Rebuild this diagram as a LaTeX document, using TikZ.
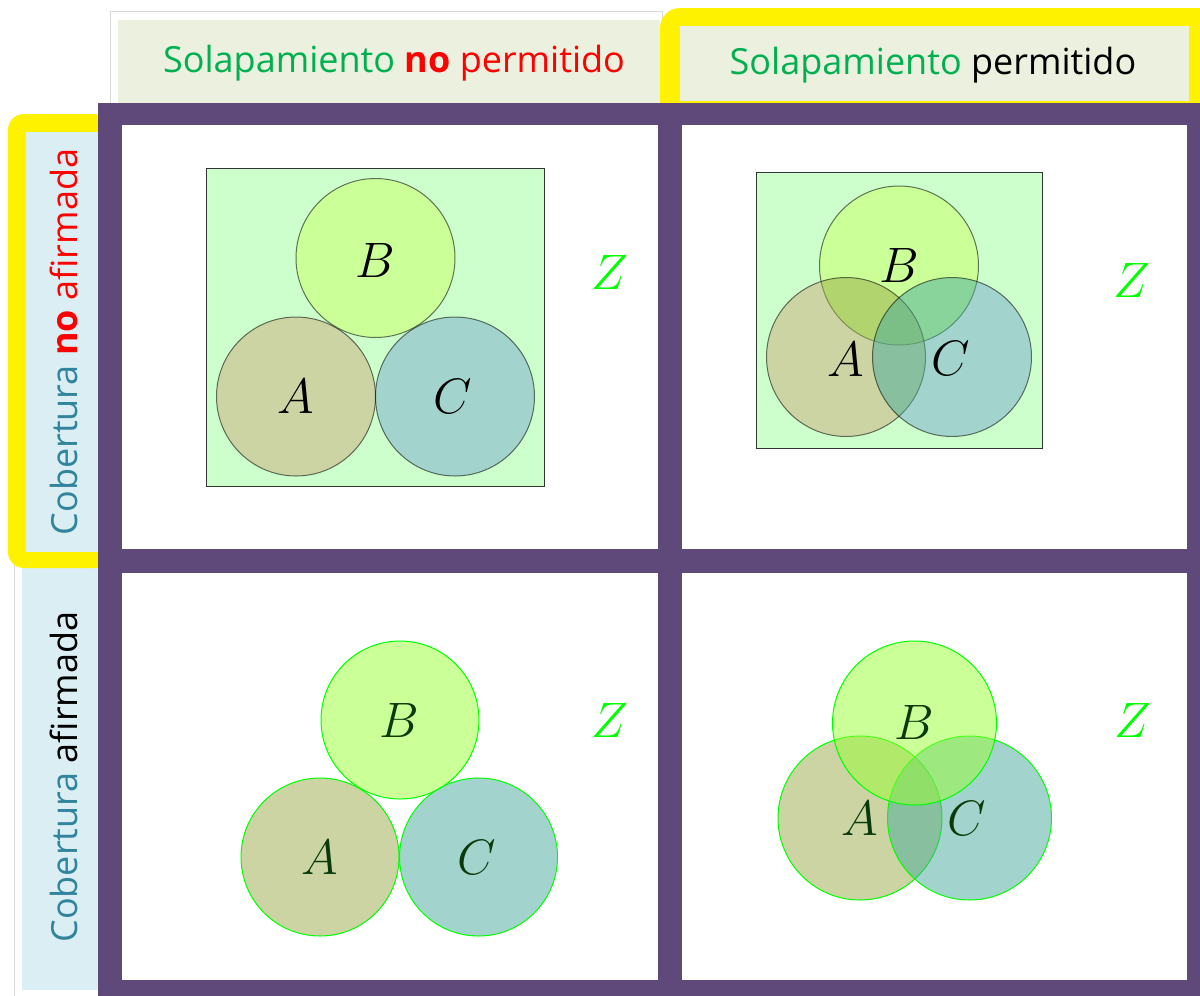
\documentclass[tikz,border=0pt]{standalone}
\usepackage{fontspec}
\setmainfont{Open Sans}
\usepackage{xcolor}
\definecolor{solgreen}{HTML}{00B050}
\definecolor{cobteal}{HTML}{31849B}
\definecolor{headbg}{HTML}{EBF1DE}
\definecolor{sidebg}{HTML}{DAEEF3}
\definecolor{gridpurple}{HTML}{5F497A}
\definecolor{colA}{HTML}{99AB47}
\definecolor{colB}{HTML}{99FF33}
\definecolor{colC}{HTML}{47AB9D}
\definecolor{univ}{HTML}{CCFFCC}
\definecolor{darklbl}{HTML}{0A3A0A}

\begin{document}
\begin{tikzpicture}[x=0.5pt, y=-0.5pt,
    set/.style={fill opacity=0.5, draw=black, draw opacity=0.55, line width=0.5pt},
    setg/.style={fill opacity=0.5, draw=green, line width=0.5pt},
    lbl/.style={font=\fontsize{23}{23}\selectfont},
    hd/.style={font=\fontsize{18}{20}\selectfont}]
    \useasboundingbox (0,0) rectangle (1200,996);

    % cabeceras
    \draw[black!15, fill=white] (110,11) rectangle (662,105);
    \fill[headbg] (118,20) rectangle (660,103);
    \fill[yellow] (660,103) [rounded corners=10] -- (660,8) [sharp corners] -- (1200,8) -- (1200,103) -- cycle;
    \fill[headbg] (680,26) rectangle (1189,101);
    \draw[black!15, fill=white] (14,560) rectangle (100,996);
    \fill[sidebg] (22,560) rectangle (98,990);
    \fill[yellow, rounded corners=8] (8,114) rectangle (110,568);
    \fill[sidebg] (26,132) rectangle (102,552);

    % rejilla
    \fill[gridpurple] (98,103) rectangle (1200,996);
    \fill[white] (122,125) rectangle (658,549);
    \fill[white] (682,125) rectangle (1187,549);
    \fill[white] (122,573) rectangle (658,980);
    \fill[white] (682,573) rectangle (1187,980);

    \node[hd] (solno) at (394,63) {\textcolor{solgreen}{Solapamiento} \textcolor{red}{\textbf{no} permitido}};
    \node[hd] (solsi) at (933,65) {\textcolor{solgreen}{Solapamiento} permitido};
    \node[hd, rotate=90] (cobno) at (64,342) {\textcolor{cobteal}{Cobertura} \textcolor{red}{\textbf{no} afirmada}};
    \node[hd, rotate=90] (cobsi) at (64,777) {\textcolor{cobteal}{Cobertura} afirmada};

    % sin solapamiento, sin cobertura
    \draw[black!80, fill=univ] (206,168) rectangle (544,486);
    \fill[white] (296,396.5) circle (79.5) (455,396.5) circle (79.5) (375.5,258) circle (79.5);
    \draw[set, fill=colB] (375.5,258) circle (79.5);
    \draw[set, fill=colA] (296,396.5) circle (79.5);
    \draw[set, fill=colC] (455,396.5) circle (79.5);
    \node[lbl] (a1) at (296,396.5) {$A$};
    \node[lbl] (b1) at (375.5,260) {$B$};
    \node[lbl] (c1) at (453,396.5) {$C$};
    \node[lbl, text=green] (z1) at (610,272) {$Z$};

    % con solapamiento, sin cobertura
    \draw[black!80, fill=univ] (756,172) rectangle (1042,448);
    \fill[white] (846,357) circle (79.5) (952,357) circle (79.5) (899,265.5) circle (79.5);
    \draw[set, fill=colB] (899,265.5) circle (79.5);
    \draw[set, fill=colA] (846,357) circle (79.5);
    \draw[set, fill=colC] (952,357) circle (79.5);
    \node[lbl] (a2) at (846,359) {$A$};
    \node[lbl] (b2) at (899,265) {$B$};
    \node[lbl] (c2) at (951,358) {$C$};
    \node[lbl, text=green] (z2) at (1132,280) {$Z$};

    % sin solapamiento, con cobertura
    \fill[white] (320,857) circle (79) (478.5,857) circle (79) (400,720) circle (79);
    \draw[setg, fill=colA] (320,857) circle (79);
    \draw[setg, fill=colC] (478.5,857) circle (79);
    \draw[setg, fill=colB] (400,720) circle (79);
    \node[lbl, text=darklbl] (a3) at (320,857) {$A$};
    \node[lbl, text=darklbl] (b3) at (399,720) {$B$};
    \node[lbl, text=darklbl] (c3) at (477,857) {$C$};
    \node[lbl, text=green] (z3) at (610,720) {$Z$};

    % con solapamiento, con cobertura
    \fill[white] (860,818) circle (82) (969.5,818) circle (82) (914.5,723) circle (82);
    \draw[setg, fill=colA] (860,818) circle (82);
    \draw[setg, fill=colC] (969.5,818) circle (82);
    \draw[setg, fill=colB] (914.5,723) circle (82);
    \node[lbl, text=darklbl] (a4) at (860,818) {$A$};
    \node[lbl, text=darklbl] (b4) at (914,722) {$B$};
    \node[lbl, text=darklbl] (c4) at (967,818) {$C$};
    \node[lbl, text=green] (z4) at (1133,720) {$Z$};
\end{tikzpicture}
\end{document}
